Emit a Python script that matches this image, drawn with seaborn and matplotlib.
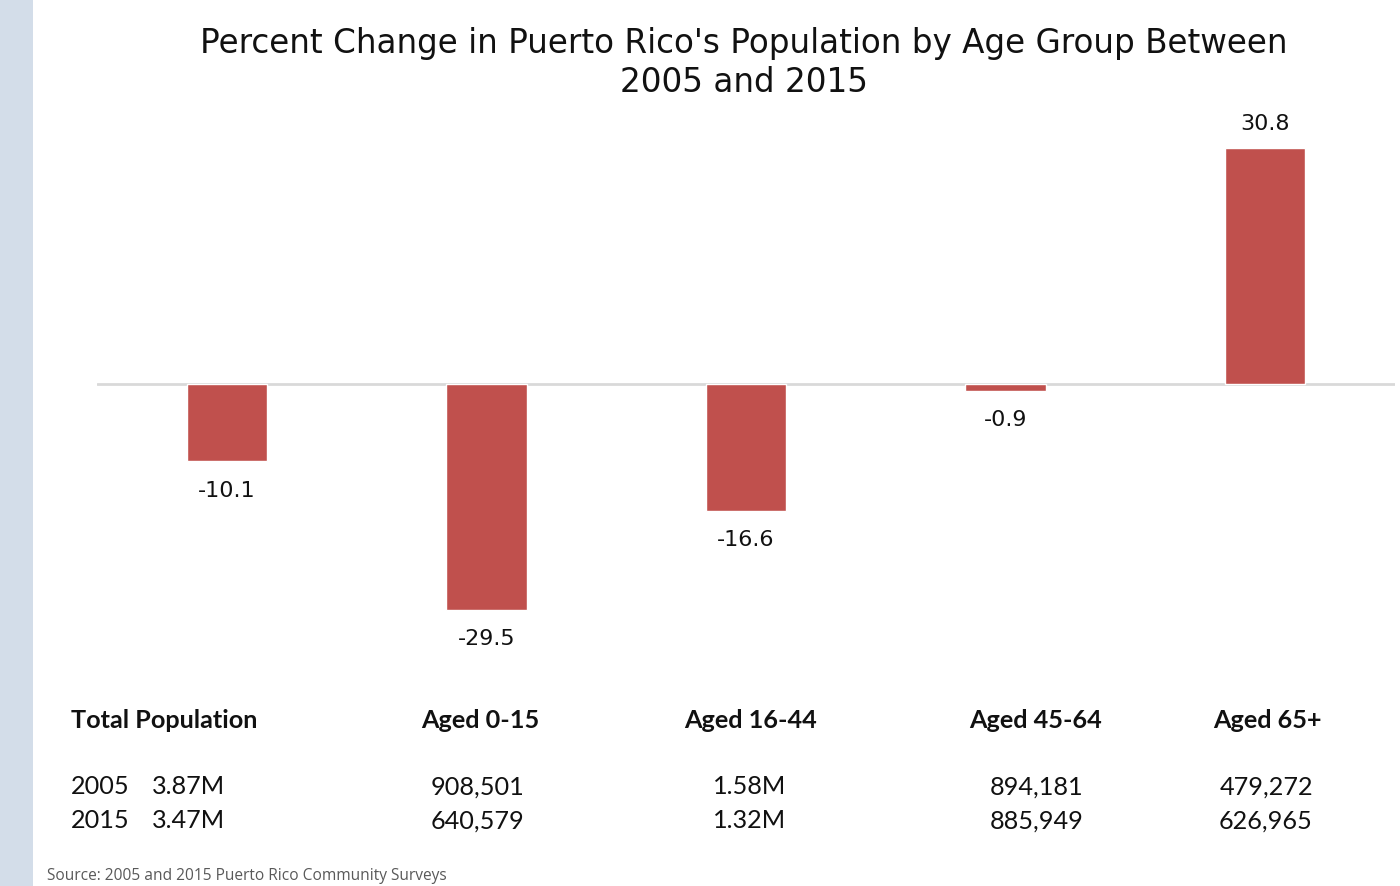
import matplotlib
matplotlib.use("Agg")
import matplotlib.pyplot as plt
import matplotlib.patches as mpatches
import seaborn as sns
import pandas as pd

# Chart data
groups = ["Total Population", "Aged 0-15", "Aged 16-44", "Aged 45-64", "Aged 65+"]
pct_change = [-10.1, -29.5, -16.6, -0.9, 30.8]
pop_2005 = ["3.87M", "908,501", "1.58M", "894,181", "479,272"]
pop_2015 = ["3.47M", "640,579", "1.32M", "885,949", "626,965"]
years = ["2005", "2015"]

title = "Percent Change in Puerto Rico's Population by Age Group Between\n2005 and 2015"
source = "Source: 2005 and 2015 Puerto Rico Community Surveys"

bar_color = "#C0504D"

sns.set_theme(style="white")
plt.rcParams["font.family"] = ["DejaVu Sans"]

W, H = 1400, 886
fig = plt.figure(figsize=(W / 100, H / 100), dpi=100)
fig.patch.set_facecolor("white")

# light blue strip on the left edge
fig.patches.append(mpatches.Rectangle((0, 0), 33 / W, 1, transform=fig.transFigure,
                                      facecolor="#D3DDE9", edgecolor="none", zorder=0))

def fx(px):
    return px / W

def fy(py):
    return 1 - py / H

top_px, bot_px = 110, 660
zero_px = 384
scale = 7.66  # pixels per percentage point
ax = fig.add_axes([fx(97), fy(bot_px), fx(1395) - fx(97), (bot_px - top_px) / H])
ax.set_facecolor("none")

df = pd.DataFrame({"group": groups, "change": pct_change})
sns.barplot(data=df, x="group", y="change", order=groups, color=bar_color,
            saturation=1, width=0.31, ax=ax, zorder=2)

ax.set_xlim(-0.5, len(groups) - 0.5)
ax.set_ylim(-(bot_px - zero_px) / scale, (zero_px - top_px) / scale)
ax.axhline(0, color="#D9D9D9", lw=2, zorder=1)

for s in ax.spines.values():
    s.set_visible(False)
ax.set_xticks([])
ax.set_yticks([])
ax.set_xlabel("")
ax.set_ylabel("")

# value labels at the ends of the bars
for i, v in enumerate(pct_change):
    off = 17 if v > 0 else -21
    ax.annotate(f"{v:.1f}", xy=(i, v), xytext=(0, off), textcoords="offset points",
                ha="center", va="center", fontsize=16, color="#111111")

fig.text(fx(744), fy(63), title, ha="center", va="center", fontsize=23.5,
         color="#111111", linespacing=1.2)

# summary table below the chart
tfont = ["Lato", "DejaVu Sans"]
fs = 18.2
head_x = [71, 480, 751, 1036, 1267]
val_x = [None, 478, 750, 1037, 1266]
for i, g in enumerate(groups):
    fig.text(fx(head_x[i]), fy(720), g, ha="left" if i == 0 else "center", va="center",
             fontsize=fs, fontweight="bold", family=tfont, color="#111111")

for row, (yr, vals) in enumerate(zip(years, [pop_2005, pop_2015])):
    y = fy(787 + row * 34)
    fig.text(fx(71), y, yr, ha="left", va="center", fontsize=fs, family=tfont, color="#111111")
    fig.text(fx(152), y, vals[0], ha="left", va="center", fontsize=fs, family=tfont, color="#111111")
    for i in range(1, len(groups)):
        fig.text(fx(val_x[i]), y, vals[i], ha="center", va="center", fontsize=fs,
                 family=tfont, color="#111111")

fig.text(fx(47), fy(876), source, ha="left", va="center", fontsize=11.2,
         family=["Open Sans", "DejaVu Sans"], color="#595959")

fig.savefig("out.png", dpi=100, facecolor="white")
